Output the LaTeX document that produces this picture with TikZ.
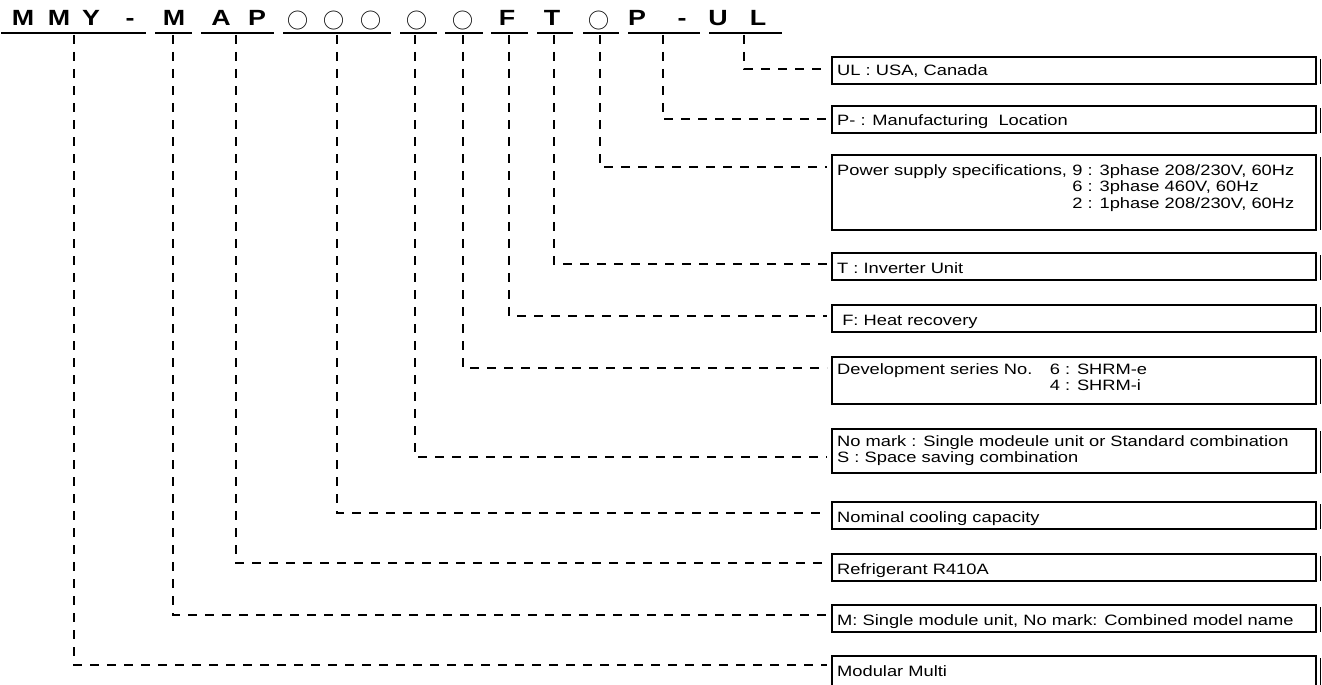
\documentclass[tikz,border=0pt]{standalone}
\usepackage{fontspec}
\setmainfont[FakeStretch=1.22]{Liberation Sans}
\newfontfamily\cjk{Noto Sans CJK JP}
\usetikzlibrary{calc}
\begin{document}
\begin{tikzpicture}[x=1pt,y=-1pt,
  ttl/.style={font=\fontsize{22}{26}\selectfont\bfseries, anchor=base, inner sep=0pt},
  ring/.style={font=\fontsize{21}{26}\selectfont\cjk, anchor=base, inner sep=0pt},
  uline/.style={line width=1.8pt},
  conn/.style={line width=1.8pt, dash pattern=on 9pt off 8pt, dash phase=15pt, shorten >=5pt},
  box/.style={draw, line width=1.6pt, anchor=north west, minimum width=484pt, inner sep=0pt, outer sep=0pt},
  txt/.style={font=\fontsize{15}{16.5}\selectfont, anchor=base west, inner sep=0pt},
  shadeln/.style={line width=1.2pt}]
\useasboundingbox (0,0) rectangle (1322,685);

% ---- title row ----
\node[ttl]  (c1)  at (23,26)  {M};
\node[ttl]  (c2)  at (59,26)  {M};
\node[ttl]  (c3)  at (91,26)  {Y};
\node[ttl]  (c4)  at (130,26) {-};
\node[ttl]  (c5)  at (174,26) {M};
\node[ttl]  (c6)  at (221,26) {A};
\node[ttl]  (c7)  at (257,26) {P};
\node[ring] (c8)  at (298,29) {○};
\node[ring] (c9)  at (334,29) {○};
\node[ring] (c10) at (371,29) {○};
\node[ring] (c11) at (417,29) {○};
\node[ring] (c12) at (463,29) {○};
\node[ttl]  (c13) at (507,26) {F};
\node[ttl]  (c14) at (552,26) {T};
\node[ring] (c15) at (599,29) {○};
\node[ttl]  (c16) at (637,26) {P};
\node[ttl]  (c17) at (682,26) {-};
\node[ttl]  (c18) at (718,26) {U};
\node[ttl]  (c19) at (758,26) {L};

\foreach \a/\b in {1/146,155/192,201/274,283/391,400/437,445/483,491/528,537/573,583/619,628/700,709/782}
  \draw[uline] (\a,33) -- (\b,33);

% ---- boxes ----
\node[box, minimum height=27pt] (bUL) at (832,57)  {};
\node[box, minimum height=27pt] (bPL) at (832,106) {};
\node[box, minimum height=75pt] (bPW) at (832,155) {};
\node[box, minimum height=27pt] (bT)  at (832,253) {};
\node[box, minimum height=27pt] (bF)  at (832,305) {};
\node[box, minimum height=47pt] (bDV) at (832,357) {};
\node[box, minimum height=44pt] (bNM) at (832,429) {};
\node[box, minimum height=27pt] (bNC) at (832,502) {};
\node[box, minimum height=27pt] (bRF) at (832,554) {};
\node[box, minimum height=27pt] (bMS) at (832,605) {};
\node[box, minimum height=40pt] (bMM) at (832,656) {};

\foreach \n in {bUL,bPL,bPW,bT,bF,bDV,bNM,bNC,bRF,bMS,bMM}
  \draw[shadeln] ($(\n.north east)+(4.5,2)$) -- ($(\n.south east)+(4.5,0)$);

% ---- texts ----
\node[txt] (xUL) at ($(bUL.north west)+(5,19)$) {UL : USA, Canada};
\node[txt] (xPL) at ($(bPL.north west)+(5,19)$) {P- : Manufacturing\ \ Location};
\node[txt] (xPWa) at ($(bPW.north west)+(5,20)$) {Power supply specifications,};
\node[txt] (xPWb) at ($(xPWa.base east)+(5,0)$) {9 : 3phase 208/230V, 60Hz};
\node[txt] (xPWc) at ($(xPWb.base west)+(0,16.5)$) {6 : 3phase 460V, 60Hz};
\node[txt] (xPWd) at ($(xPWc.base west)+(0,16.5)$) {2 : 1phase 208/230V, 60Hz};
\node[txt] (xT)  at ($(bT.north west)+(5,20)$)  {T : Inverter Unit};
\node[txt] (xF)  at ($(bF.north west)+(5,20)$)  {\ F: Heat recovery};
\node[txt] (xDVa) at ($(bDV.north west)+(5,17)$) {Development series No.};
\node[txt] (xDVb) at ($(xDVa.base east)+(17,0)$) {6 : SHRM-e};
\node[txt] (xDVc) at ($(xDVb.base west)+(0,16.5)$) {4 : SHRM-i};
\node[txt] (xNMa) at ($(bNM.north west)+(5,17)$) {No mark : Single modeule unit or Standard combination};
\node[txt] (xNMb) at ($(xNMa.base west)+(0,16.5)$) {S : Space saving combination};
\node[txt] (xNC) at ($(bNC.north west)+(5,20)$) {Nominal cooling capacity};
\node[txt] (xRF) at ($(bRF.north west)+(5,20)$) {Refrigerant R410A};
\node[txt] (xMS) at ($(bMS.north west)+(5,20)$) {M: Single module unit, No mark: Combined model name};
\node[txt] (xMM) at ($(bMM.north west)+(5,20)$) {Modular Multi};

% ---- connectors ----
\coordinate (tUL) at (744,33);
\coordinate (tPL) at (663,33);
\coordinate (tPW) at (600,33);
\coordinate (tT)  at (554,33);
\coordinate (tF)  at (509,33);
\coordinate (tDV) at (463,33);
\coordinate (tNM) at (415,33);
\coordinate (tNC) at (337,33);
\coordinate (tRF) at (236,33);
\coordinate (tMS) at (173,33);
\coordinate (tMM) at (74,33);

\draw[conn] (tUL) |- ($(bUL.north west)+(0,12)$);
\draw[conn] (tPL) |- ($(bPL.north west)+(0,13)$);
\draw[conn] (tPW) |- ($(bPW.north west)+(0,12)$);
\draw[conn] (tT)  |- ($(bT.north west)+(0,11)$);
\draw[conn] (tF)  |- ($(bF.north west)+(0,11)$);
\draw[conn] (tDV) |- ($(bDV.north west)+(0,11)$);
\draw[conn] (tNM) |- ($(bNM.north west)+(0,28)$);
\draw[conn] (tNC) |- ($(bNC.north west)+(0,11)$);
\draw[conn] (tRF) |- ($(bRF.north west)+(0,9)$);
\draw[conn] (tMS) |- ($(bMS.north west)+(0,10)$);
\draw[conn] (tMM) |- ($(bMM.north west)+(0,9)$);
\end{tikzpicture}
\end{document}
